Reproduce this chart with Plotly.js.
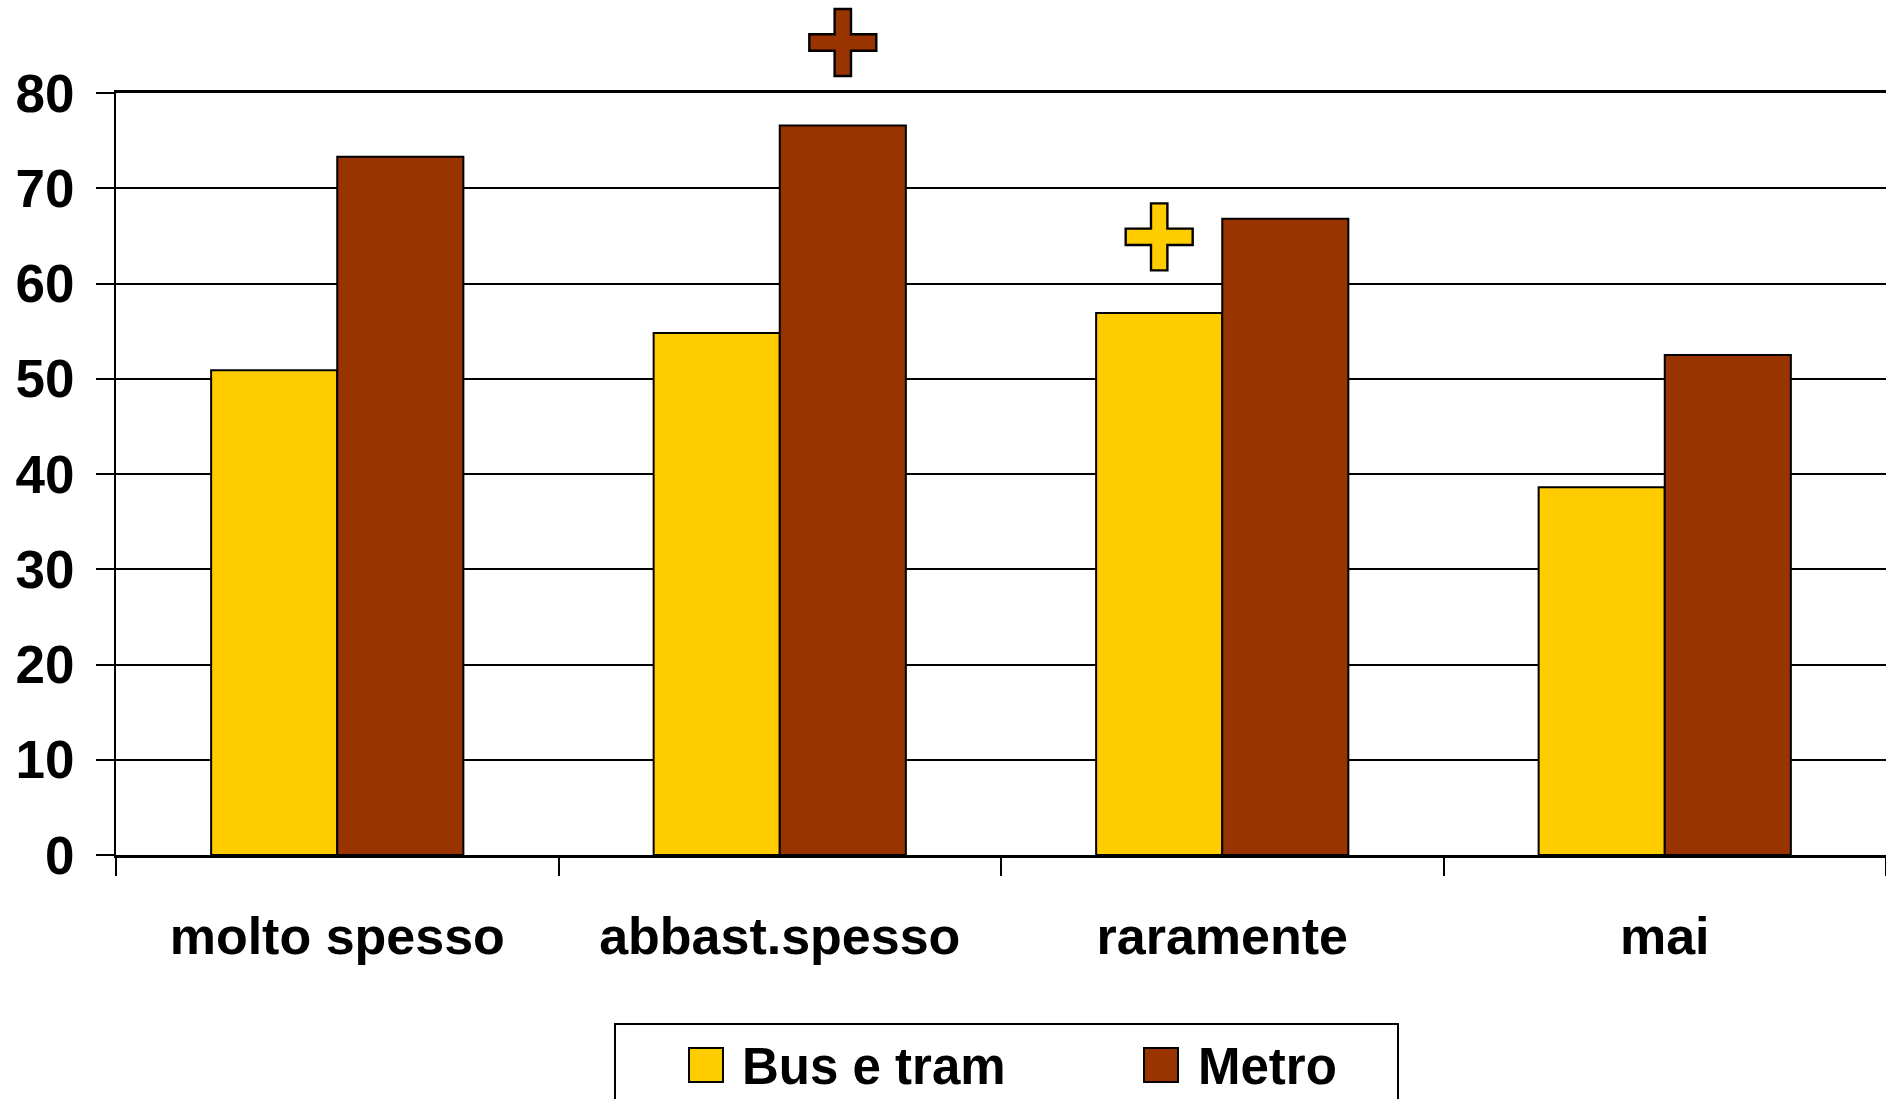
<!DOCTYPE html>
<html>
<head>
<meta charset="utf-8">
<script src="https://cdn.plot.ly/plotly-3.0.1.min.js"></script>
<style>
  html, body { margin: 0; padding: 0; background: #ffffff; }
  #chart { width: 1886px; height: 1099px; }
</style>
</head>
<body>
<div id="chart"></div>
<script>
// ---- data ----
const categories = ['molto spesso', 'abbast.spesso', 'raramente', 'mai'];
const busTram = [50.9, 54.8, 56.9, 38.6];
const metro = [73.3, 76.6, 66.8, 52.5];
const seriesNames = ['Bus e tram', 'Metro'];
const yTickValues = [0, 10, 20, 30, 40, 50, 60, 70, 80];
const yTickLabels = ['0', '10', '20', '30', '40', '50', '60', '70', '80'];
// significance crosses: category, series index, height on the y scale
const sigCategory = ['abbast.spesso', 'raramente'];
const sigSeries = [1, 0];
const sigY = [85.3, 64.9];

// ---- styles ----
const seriesColors = ['#FFCC00', '#993300'];
const FONT = 'Liberation Sans, Arial, Helvetica, sans-serif';
const W = 1886, H = 1099;
const M = { l: 116, r: 0, t: 93, b: 244 };
const BARGAP = 0.43;
const Y_RANGE = [0, 80];

const plotW = W - M.l - M.r, plotH = H - M.t - M.b;
const px2paperX = px => (px - M.l) / plotW;
const px2paperY = py => (H - M.b - py) / plotH;
const y2paper = v => (v - Y_RANGE[0]) / (Y_RANGE[1] - Y_RANGE[0]);

const seriesValues = [busTram, metro];
const traces = seriesValues.map((vals, i) => ({
  type: 'bar',
  name: seriesNames[i],
  x: categories,
  y: vals,
  marker: { color: seriesColors[i], line: { color: '#000000', width: 2 } },
  hoverinfo: 'x+y+name'
}));

const shapes = [];
// significance crosses anchored at data positions, drawn in pixel units
const barFrac = (1 - BARGAP) / 2;
const a = 33.5, t = 8.2;
const crossPath = `M${-t},${-a}H${t}V${-t}H${a}V${t}H${t}V${a}H${-t}V${t}H${-a}V${-t}H${-t}Z`;
sigCategory.forEach((cat, k) => {
  const ci = categories.indexOf(cat);
  shapes.push({
    type: 'path', xref: 'x', yref: 'paper',
    xsizemode: 'pixel', ysizemode: 'pixel',
    xanchor: ci + (sigSeries[k] - 0.5) * barFrac,
    yanchor: y2paper(sigY[k]),
    path: crossPath,
    fillcolor: seriesColors[sigSeries[k]],
    line: { color: '#000000', width: 2.4 },
    layer: 'above'
  });
});

// legend box (custom, to get large symbols)
shapes.push({
  type: 'rect', xref: 'paper', yref: 'paper',
  x0: px2paperX(615), x1: px2paperX(1398),
  y0: px2paperY(1120), y1: px2paperY(1024),
  line: { color: '#000000', width: 2 }, fillcolor: '#ffffff', layer: 'above'
});
const legSymX = [689, 1144];
const legTextX = [740, 1196];
const annotations = [];
seriesNames.forEach((nm, i) => {
  shapes.push({
    type: 'rect', xref: 'paper', yref: 'paper',
    x0: px2paperX(legSymX[i]), x1: px2paperX(legSymX[i] + 34),
    y0: px2paperY(1082), y1: px2paperY(1048),
    line: { color: '#000000', width: 2 }, fillcolor: seriesColors[i], layer: 'above'
  });
  annotations.push({
    xref: 'paper', yref: 'paper',
    x: px2paperX(legTextX[i]), y: px2paperY(1066),
    xanchor: 'left', yanchor: 'middle',
    text: nm, showarrow: false,
    font: { family: FONT, size: 51, color: '#000000', weight: 'bold' }
  });
});

const layout = {
  width: W, height: H,
  margin: { l: M.l, r: M.r, t: M.t, b: M.b, pad: 0 },
  paper_bgcolor: '#ffffff', plot_bgcolor: '#ffffff',
  showlegend: false,
  barmode: 'group', bargap: BARGAP, bargroupgap: 0,
  font: { family: FONT, color: '#000000' },
  xaxis: {
    type: 'category',
    showline: true, linecolor: '#000000', linewidth: 3, mirror: true,
    ticks: 'outside', tickson: 'boundaries', ticklen: 18, tickwidth: 2, tickcolor: '#000000',
    showgrid: false, zeroline: false,
    tickfont: { family: FONT, size: 52, color: '#000000', weight: 'bold' },
    ticklabelstandoff: 34,
    fixedrange: true
  },
  yaxis: {
    range: Y_RANGE,
    tickmode: 'array', tickvals: yTickValues, ticktext: yTickLabels,
    showline: true, linecolor: '#000000', linewidth: 2,
    ticks: 'outside', ticklen: 18, tickwidth: 2, tickcolor: '#000000',
    showgrid: true, gridcolor: '#000000', gridwidth: 2,
    zeroline: false,
    tickfont: { family: FONT, size: 53, color: '#000000', weight: 'bold' },
    ticklabelstandoff: 11,
    fixedrange: true
  },
  shapes: shapes,
  annotations: annotations
};

Plotly.newPlot('chart', traces, layout, { displayModeBar: false, staticPlot: true });
</script>
</body>
</html>
